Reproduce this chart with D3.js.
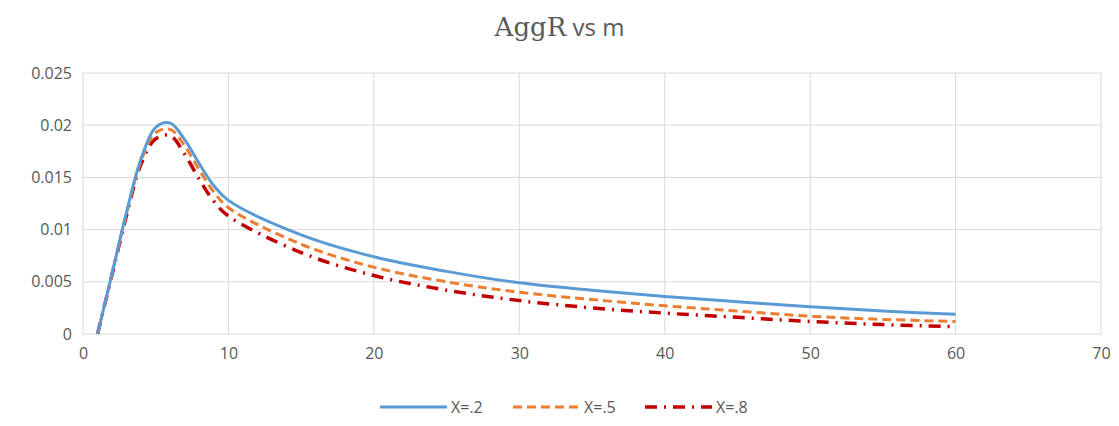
<!DOCTYPE html>
<html>
<head>
<meta charset="utf-8">
<script src="https://cdn.jsdelivr.net/npm/d3@7"></script>
<style>
  body { margin: 0; background: #fff; }
  text { font-family: "Open Sans", "Liberation Sans", sans-serif; }
</style>
</head>
<body>
<div id="chart-area"></div>
<script>
// data
var mValues = [1, 2, 3, 4, 5, 6, 7, 8, 9, 10, 15, 20, 25, 30, 35, 40, 45, 50, 55, 60];
var x2 = [0, 0.0058, 0.0117, 0.0168, 0.0198, 0.0202, 0.0186, 0.0163, 0.0142, 0.0128, 0.0095, 0.0074, 0.0060, 0.0049, 0.0042, 0.0036, 0.0031, 0.0026, 0.0022, 0.0019];
var x5 = [0, 0.0058, 0.0116, 0.0166, 0.0193, 0.0196, 0.0180, 0.0157, 0.0136, 0.0121, 0.0086, 0.0064, 0.0050, 0.0040, 0.0033, 0.0027, 0.0022, 0.0017, 0.0014, 0.0012];
var x8 = [0, 0.0057, 0.0114, 0.0163, 0.0187, 0.0190, 0.0172, 0.0148, 0.0127, 0.0113, 0.0078, 0.0056, 0.0042, 0.0032, 0.0025, 0.0020, 0.0016, 0.0012, 0.0009, 0.0007];
var seriesNames = ["X=.2", "X=.5", "X=.8"];
var xTicks = [0, 10, 20, 30, 40, 50, 60, 70];
var yTicks = [0, 0.005, 0.01, 0.015, 0.02, 0.025];

var W = 1119, H = 426;
var margin = { left: 83, right: 18, top: 73, bottom: 92 };
var width = W - margin.left - margin.right,
    height = H - margin.top - margin.bottom;

var svg = d3.select("#chart-area").append("svg")
    .attr("width", W).attr("height", H);

var g = svg.append("g")
    .attr("transform", "translate(" + margin.left + "," + margin.top + ")");

var x = d3.scaleLinear().domain([0, 70]).range([0, width]);
var y = d3.scaleLinear().domain([0, 0.025]).range([height, 0]);

// grid
g.append("g").selectAll("line.h").data(yTicks).enter().append("line")
    .attr("x1", 0).attr("x2", width)
    .attr("y1", d => y(d)).attr("y2", d => y(d))
    .attr("stroke", "#d9d9d9").attr("stroke-width", 1);
g.append("g").selectAll("line.v").data(xTicks).enter().append("line")
    .attr("y1", 0).attr("y2", height)
    .attr("x1", d => x(d)).attr("x2", d => x(d))
    .attr("stroke", "#d9d9d9").attr("stroke-width", 1);

// axes (labels only)
var yAxis = d3.axisLeft(y).tickValues(yTicks).tickSize(0).tickPadding(11)
    .tickFormat(d => d === 0 ? "0" : String(+d.toFixed(3)));
var xAxis = d3.axisBottom(x).tickValues(xTicks).tickSize(0).tickPadding(14);

g.append("g").attr("class", "y-axis").call(yAxis);
g.append("g").attr("class", "x-axis")
    .attr("transform", "translate(0," + height + ")").call(xAxis);
g.selectAll(".y-axis path, .x-axis path").remove();
g.selectAll(".x-axis text, .y-axis text")
    .attr("fill", "#595959").attr("font-size", "16px");

// series
var series = [
  { name: seriesNames[0], values: x2, color: "#5b9bd5", dash: null, w: 3 },
  { name: seriesNames[1], values: x5, color: "#ed7d31", dash: "9,5", w: 3 },
  { name: seriesNames[2], values: x8, color: "#c00000", dash: "12,7,2,7", w: 3.5 }
];

var line = d3.line()
    .x((d, i) => x(mValues[i]))
    .y(d => y(d))
    .curve(d3.curveCatmullRom.alpha(0.5));

series.slice().reverse().forEach(s => {
  g.append("path")
    .datum(s.values)
    .attr("fill", "none")
    .attr("stroke", s.color)
    .attr("stroke-width", s.w)
    .attr("stroke-dasharray", s.dash)
    .attr("d", line);
});

// title
var title = svg.append("text")
    .attr("x", W / 2).attr("y", 36)
    .attr("text-anchor", "middle")
    .attr("fill", "#595959");
title.append("tspan").attr("font-family", "'DejaVu Serif', 'Liberation Serif', serif")
    .attr("font-size", "26px").text("AggR");
title.append("tspan").attr("font-size", "24px").text(" vs m");

// legend
var legendX = [380, 513, 645];
var lg = svg.append("g");
series.forEach((s, i) => {
  lg.append("line")
    .attr("x1", legendX[i]).attr("x2", legendX[i] + 67)
    .attr("y1", 407).attr("y2", 407)
    .attr("stroke", s.color).attr("stroke-width", s.w)
    .attr("stroke-dasharray", s.dash);
  lg.append("text")
    .attr("x", legendX[i] + 71).attr("y", 413)
    .attr("fill", "#595959").attr("font-size", "16px")
    .text(s.name);
});
</script>
</body>
</html>
